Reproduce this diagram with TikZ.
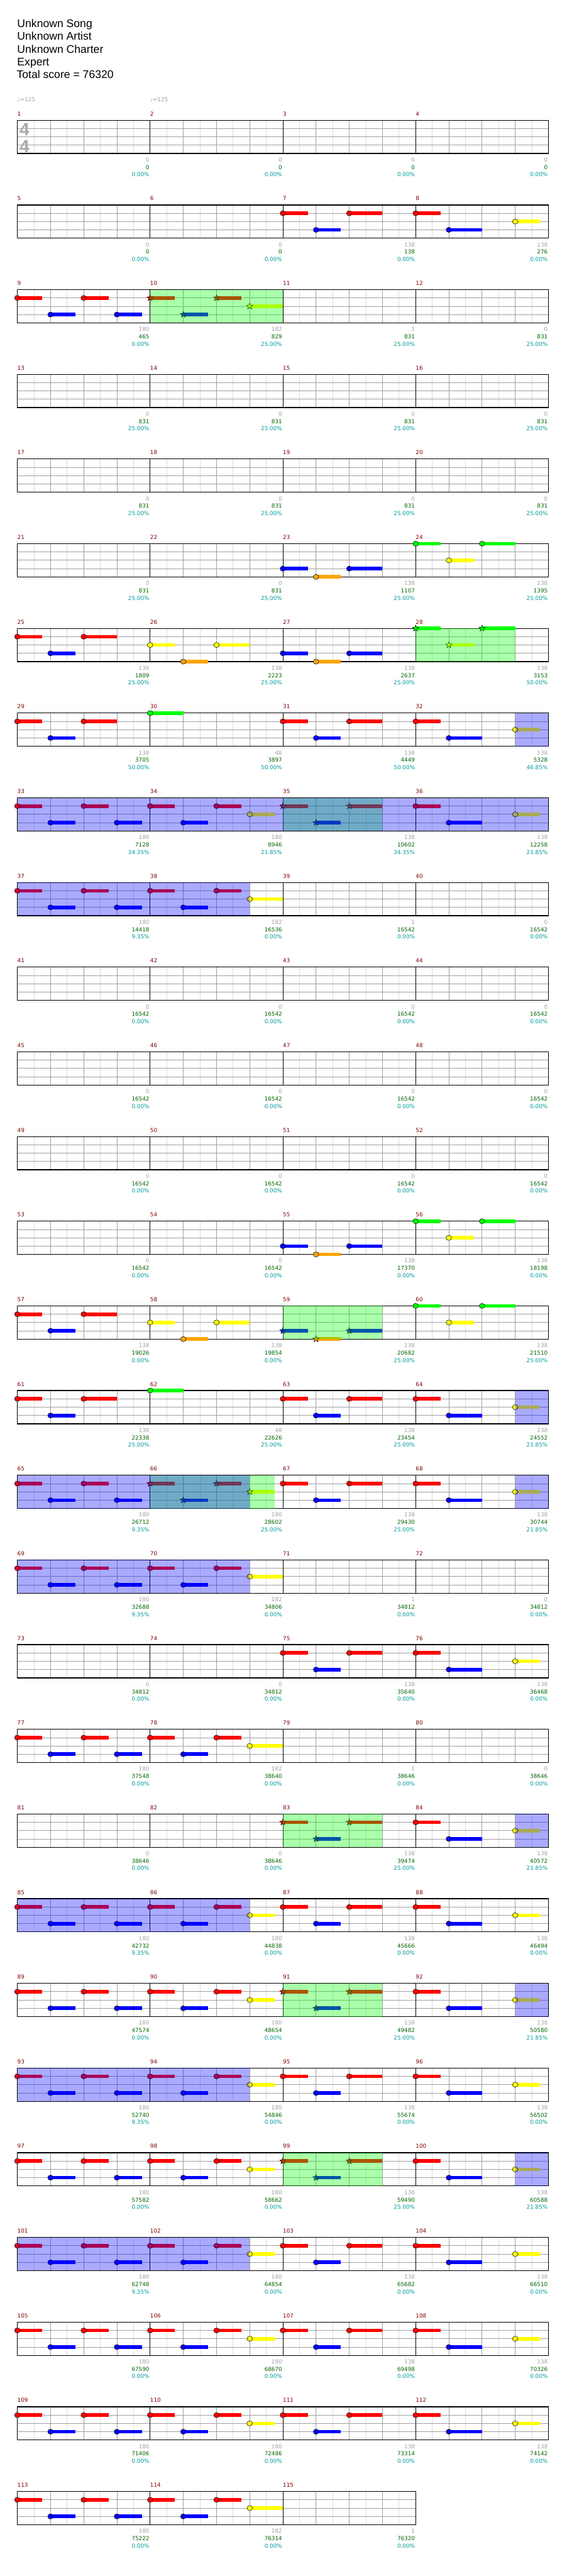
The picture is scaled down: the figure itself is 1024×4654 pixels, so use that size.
\documentclass[tikz,border=0pt]{standalone}
\usepackage{fontspec}
\setmainfont{Liberation Sans}
\newfontfamily\numfont{DejaVu Sans}
\usetikzlibrary{shapes.geometric}
\usepackage{xcolor}

\definecolor{fretG}{HTML}{00FF00}
\definecolor{fretR}{HTML}{FF0000}
\definecolor{fretY}{HTML}{FFFF00}
\definecolor{fretB}{HTML}{0000FF}
\definecolor{fretO}{HTML}{FFA500}
\definecolor{barred}{HTML}{800000}
\definecolor{gaingray}{HTML}{A0A0A0}
\definecolor{totalgreen}{HTML}{006400}
\definecolor{pctteal}{HTML}{009999}
\definecolor{rulegray}{HTML}{A0A0A0}
\definecolor{rulelight}{HTML}{DCDCDC}

% lane of each fret
\def\laneG{0}\def\laneR{1}\def\laneY{2}\def\laneB{3}\def\laneO{4}

% left edge and staff top of a measure
\newcommand{\measpos}[1]{%
  \pgfmathtruncatemacro\meRow{floor((#1-1)/4)}%
  \pgfmathtruncatemacro\meCol{#1-1-4*\meRow}%
  \pgfmathsetmacro\meX{31.3+240*\meCol}%
  \pgfmathsetmacro\meT{217.3+153*\meRow}}

% one staff line of measures
\newcommand{\staffrow}[2]{%
  \pgfmathsetmacro\rowT{217.3+153*#1}%
  \pgfmathsetmacro\rowR{31.3+240*#2}%
  \pgfmathtruncatemacro\rowE{8*#2-1}%
  \foreach \k in {1,3,...,\rowE} {\draw[eighthrule] (31.3+30*\k,\rowT) -- ++(0,60);}
  \foreach \l in {15,30,45} {\draw[lanerule] (31.3,\rowT+\l) -- (\rowR,\rowT+\l);}
  \foreach \k in {2,4,...,\rowE} {\draw[beatrule] (31.3+30*\k,\rowT) -- ++(0,60);}
  \pgfmathtruncatemacro\rowB{#2-1}%
  \foreach \b in {1,...,\rowB} {\draw[barrule] (31.3+240*\b,\rowT) -- ++(0,60);}
  \draw[staffframe] (31.3,\rowT) rectangle (\rowR,\rowT+60);}

% note: measure, eighth, fret, sustain in eighths
\newcommand{\gem}[4]{%
  \measpos{#1}%
  \pgfmathsetmacro\gx{\meX+30*#2}%
  \pgfmathsetmacro\gy{\meT+15*\csname lane#3\endcsname}%
  \fill[fret#3] (\gx,\gy-3.25) rectangle ++(30*#4,6.5);
  \draw[gemhead, fill=fret#3] (\gx,\gy) ellipse [x radius=5, y radius=4.6];}

% star power note
\newcommand{\stargem}[4]{%
  \measpos{#1}%
  \pgfmathsetmacro\gx{\meX+30*#2}%
  \pgfmathsetmacro\gy{\meT+15*\csname lane#3\endcsname}%
  \fill[fret#3] (\gx,\gy-3.25) rectangle ++(30*#4,6.5);
  \node[gemstar, fill=fret#3] (star-#1-#2) at (\gx,\gy) {};}

% measure figures
\newcommand{\figtrio}[4][\gem]{#1{#2}{0}{#3}{1.5}#1{#2}{2}{#4}{1.5}#1{#2}{4}{#3}{2}}
\newcommand{\figturn}[2][\gem]{#1{#2}{0}{R}{1.5}#1{#2}{2}{B}{2}#1{#2}{6}{Y}{1.5}}
\newcommand{\figwalk}[2][\gem]{#1{#2}{0}{R}{1.5}#1{#2}{2}{B}{1.5}#1{#2}{4}{R}{1.5}#1{#2}{6}{B}{1.5}}
\newcommand{\figlead}[3][\gem]{#1{#2}{0}{R}{1.5}#1{#2}{2}{B}{1.5}#1{#2}{4}{R}{1.5}#1{#2}{6}{Y}{#3}}

% shaded span: style, from measure/eighth, to measure/eighth
\newcommand{\shadezone}[5]{%
  \measpos{#2}\pgfmathsetmacro\zoneA{\meX+30*#3}\let\zoneT\meT
  \measpos{#4}\pgfmathsetmacro\zoneB{\meX+30*#5}%
  \fill[#1] (\zoneA,\zoneT) rectangle (\zoneB,\zoneT+60);}

% number, gain, total and percent of a measure
\newcommand{\barinfo}[4]{%
  \measpos{#1}%
  \node[barnum] (bar-#1) at (\meX,\meT-8) {#1};
  \node[gainnum] (gain-#1) at (\meX+238.8,\meT+75.2) {#2};
  \node[totalnum] (total-#1) at (\meX+238.8,\meT+88.6) {#3};
  \node[pctnum] (pct-#1) at (\meX+238.8,\meT+101.8) {#4\%};}

\begin{document}
\begin{tikzpicture}[
    x=1pt, y=-1pt,
    eighthrule/.style={draw=rulelight, line width=1pt},
    lanerule/.style={draw=rulegray, line width=1pt},
    beatrule/.style={draw=rulegray, line width=1pt},
    barrule/.style={draw=black, line width=1pt},
    staffframe/.style={draw=black, line width=1.4pt},
    gemhead/.style={draw=black, line width=0.6pt},
    gemstar/.style={star, star points=5, star point ratio=2.4, minimum size=12pt, inner sep=0pt, draw=black, line width=0.6pt},
    spzone/.style={fill=fretG, fill opacity=0.333},
    odzone/.style={fill=fretB, fill opacity=0.333},
    header/.style={anchor=base west, inner sep=0pt, font=\fontsize{20}{24}\selectfont},
    tempo/.style={anchor=base west, inner sep=0pt, text=gaingray, font=\numfont\fontsize{10}{12}\selectfont},
    timesig/.style={inner sep=0pt, text=gaingray!90, font=\fontsize{32}{36}\selectfont\bfseries},
    barnum/.style={anchor=base west, inner sep=0pt, text=barred, font=\numfont\fontsize{10}{12}\selectfont},
    gainnum/.style={anchor=base east, inner sep=0pt, text=gaingray, font=\numfont\fontsize{10}{12}\selectfont},
    totalnum/.style={anchor=base east, inner sep=0pt, text=totalgreen, font=\numfont\fontsize{10}{12}\selectfont},
    pctnum/.style={anchor=base east, inner sep=0pt, text=pctteal, font=\numfont\fontsize{10}{12}\selectfont}
]
    \useasboundingbox (0,0) rectangle (1024,4654);

    % Header
    \node[header] (song) at (31,49.3) {Unknown Song};
    \node[header] (artist) at (31,72.4) {Unknown Artist};
    \node[header] (charter) at (31,95.5) {Unknown Charter};
    \node[header] (level) at (31,118.6) {Expert};
    \node[header] (total) at (30,141.7) {Total score = 76320};
    \node[tempo] (tempo1) at (31.3,184) {♩=125};
    \node[tempo] (tempo2) at (271.3,184) {♩=125};

    % Staves
    \foreach \r in {0,...,27} {\staffrow{\r}{4}}
    \staffrow{28}{3}
    \node[timesig] (tsupper) at (44.3,233.3) {4};
    \node[timesig] (tslower) at (44.3,265) {4};

    % Notes
    \figtrio{7}{R}{B} \figturn{8}
    \figwalk{9} \figlead[\stargem]{10}{2}
    \figtrio{23}{B}{O} \figtrio{24}{G}{Y}
    \figtrio{25}{R}{B} \figtrio{26}{Y}{O} \figtrio{27}{B}{O} \figtrio[\stargem]{28}{G}{Y}
    \figtrio{29}{R}{B} \gem{30}{0}{G}{2} \figtrio{31}{R}{B} \figturn{32}
    \figwalk{33} \figlead{34}{1.5} \figtrio[\stargem]{35}{R}{B} \figturn{36}
    \figwalk{37} \figlead{38}{2}
    \figtrio{55}{B}{O} \figtrio{56}{G}{Y}
    \figtrio{57}{R}{B} \figtrio{58}{Y}{O} \figtrio[\stargem]{59}{B}{O} \figtrio{60}{G}{Y}
    \figtrio{61}{R}{B} \gem{62}{0}{G}{2} \figtrio{63}{R}{B} \figturn{64}
    \figwalk{65} \figlead[\stargem]{66}{1.5} \figtrio{67}{R}{B} \figturn{68}
    \figwalk{69} \figlead{70}{2}
    \figtrio{75}{R}{B} \figturn{76}
    \figwalk{77} \figlead{78}{2}
    \figtrio[\stargem]{83}{R}{B} \figturn{84}
    \figwalk{85} \figlead{86}{1.5} \figtrio{87}{R}{B} \figturn{88}
    \figwalk{89} \figlead{90}{1.5} \figtrio[\stargem]{91}{R}{B} \figturn{92}
    \figwalk{93} \figlead{94}{1.5} \figtrio{95}{R}{B} \figturn{96}
    \figwalk{97} \figlead{98}{1.5} \figtrio[\stargem]{99}{R}{B} \figturn{100}
    \figwalk{101} \figlead{102}{1.5} \figtrio{103}{R}{B} \figturn{104}
    \figwalk{105} \figlead{106}{1.5} \figtrio{107}{R}{B} \figturn{108}
    \figwalk{109} \figlead{110}{1.5} \figtrio{111}{R}{B} \figturn{112}
    \figwalk{113} \figlead{114}{2}

    % Star power phrases
    \foreach \spm/\spe in {10/8, 28/6, 35/6, 59/6, 66/7.5, 83/6, 91/6, 99/6}
        {\shadezone{spzone}{\spm}{0}{\spm}{\spe}}

    % Star power activations
    \foreach \odm in {32, 64, 68, 84, 92, 100} {\shadezone{odzone}{\odm}{6}{\odm}{8}}
    \shadezone{odzone}{33}{0}{36}{8}
    \foreach \odm in {37, 65, 69, 85, 93, 101} {\pgfmathtruncatemacro\odn{\odm+1}\shadezone{odzone}{\odm}{0}{\odn}{6}}

    % Measure numbers and scores
    \foreach \barN/\barG/\barS/\barP in {1/0/0/0.00, 2/0/0/0.00, 3/0/0/0.00, 4/0/0/0.00,
        5/0/0/0.00, 6/0/0/0.00, 7/138/138/0.00, 8/138/276/0.00, 9/180/465/0.00,
        10/182/829/25.00, 11/1/831/25.00, 12/0/831/25.00}
        {\barinfo{\barN}{\barG}{\barS}{\barP}}
    \foreach \barN in {13,...,22} {\barinfo{\barN}{0}{831}{25.00}}
    \foreach \barN/\barG/\barS/\barP in {23/138/1107/25.00, 24/138/1395/25.00,
        25/138/1809/25.00, 26/138/2223/25.00, 27/138/2637/25.00, 28/138/3153/50.00,
        29/138/3705/50.00, 30/48/3897/50.00, 31/138/4449/50.00, 32/138/5328/46.85,
        33/180/7128/34.35, 34/180/8946/21.85, 35/138/10602/34.35, 36/138/12258/21.85,
        37/180/14418/9.35, 38/182/16536/0.00, 39/1/16542/0.00}
        {\barinfo{\barN}{\barG}{\barS}{\barP}}
    \foreach \barN in {40,...,54} {\barinfo{\barN}{0}{16542}{0.00}}
    \foreach \barN/\barG/\barS/\barP in {55/138/17370/0.00, 56/138/18198/0.00,
        57/138/19026/0.00, 58/138/19854/0.00, 59/138/20682/25.00, 60/138/21510/25.00,
        61/138/22338/25.00, 62/48/22626/25.00, 63/138/23454/25.00, 64/138/24552/21.85,
        65/180/26712/9.35, 66/180/28602/25.00, 67/138/29430/25.00, 68/138/30744/21.85,
        69/180/32688/9.35, 70/182/34806/0.00, 71/1/34812/0.00, 72/0/34812/0.00,
        73/0/34812/0.00, 74/0/34812/0.00, 75/138/35640/0.00, 76/138/36468/0.00,
        77/180/37548/0.00, 78/182/38640/0.00, 79/1/38646/0.00, 80/0/38646/0.00,
        81/0/38646/0.00, 82/0/38646/0.00, 83/138/39474/25.00, 84/138/40572/21.85,
        85/180/42732/9.35, 86/180/44838/0.00, 87/138/45666/0.00, 88/138/46494/0.00,
        89/180/47574/0.00, 90/180/48654/0.00, 91/138/49482/25.00, 92/138/50580/21.85,
        93/180/52740/9.35, 94/180/54846/0.00, 95/138/55674/0.00, 96/138/56502/0.00,
        97/180/57582/0.00, 98/180/58662/0.00, 99/138/59490/25.00, 100/138/60588/21.85,
        101/180/62748/9.35, 102/180/64854/0.00, 103/138/65682/0.00, 104/138/66510/0.00,
        105/180/67590/0.00, 106/180/68670/0.00, 107/138/69498/0.00, 108/138/70326/0.00,
        109/180/71406/0.00, 110/180/72486/0.00, 111/138/73314/0.00, 112/138/74142/0.00,
        113/180/75222/0.00, 114/182/76314/0.00, 115/1/76320/0.00}
        {\barinfo{\barN}{\barG}{\barS}{\barP}}

\end{tikzpicture}
\end{document}
